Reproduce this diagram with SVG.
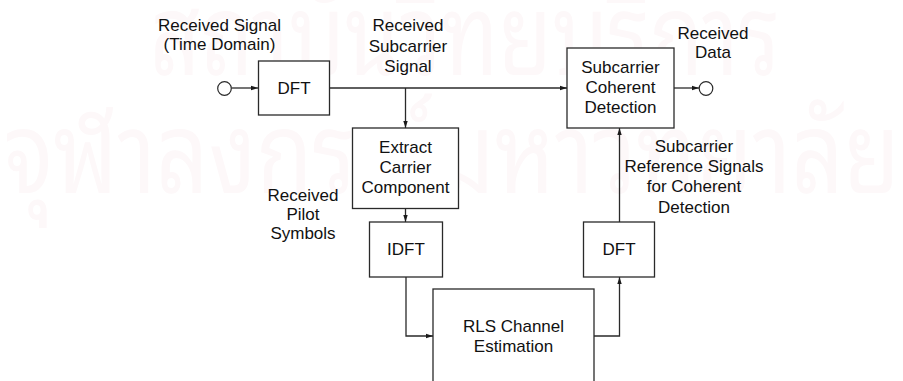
<svg xmlns="http://www.w3.org/2000/svg" width="903" height="381" viewBox="0 0 903 381">
  <defs>
    <marker id="arrow" markerUnits="userSpaceOnUse" markerWidth="8" markerHeight="6" refX="7" refY="3" orient="auto">
      <path d="M0,0.8 L7,3 L0,5.2 Z" fill="#1a1a1a"/>
    </marker>
    <style>
      .wm { font-family: "Noto Sans Thai Looped", "Loma", "Garuda", "Norasi", "Noto Sans Thai", "Noto Sans", sans-serif; fill: #fdf8f9; }
      .box { fill: #ffffff; stroke: #2a2a2a; stroke-width: 1.3; }
      .term { fill: #ffffff; stroke: #2a2a2a; stroke-width: 1.2; }
      .wire { fill: none; stroke: #2a2a2a; stroke-width: 1.3; }
      .arr { marker-end: url(#arrow); }
      text.lbl { font-family: "Liberation Sans", Arial, sans-serif; font-size: 17px; fill: #111111; text-anchor: middle; }
    </style>
  </defs>

  <rect width="903" height="381" fill="#ffffff"/>

  <!-- background watermark -->
  <g id="watermark">
    <text class="wm" x="150" y="75" font-size="112" textLength="630" lengthAdjust="spacingAndGlyphs">สถาบันวิทยบริการ</text>
    <text class="wm" x="4" y="193" font-size="112" textLength="896" lengthAdjust="spacingAndGlyphs">จุฬาลงกรณ์มหาวิทยาลัย</text>
  </g>

  <!-- connectors -->
  <g id="connectors">
    <line class="wire arr" x1="231.5" y1="88" x2="258" y2="88"/>
    <line class="wire arr" x1="330" y1="88" x2="567" y2="88"/>
    <line class="wire arr" x1="405.5" y1="88" x2="405.5" y2="128"/>
    <line class="wire arr" x1="405.5" y1="209" x2="405.5" y2="222"/>
    <polyline class="wire arr" points="406,277 406,336 433,336"/>
    <polyline class="wire arr" points="594,336 619.5,336 619.5,277"/>
    <line class="wire arr" x1="619.5" y1="222" x2="619.5" y2="128"/>
    <line class="wire arr" x1="674" y1="88" x2="699" y2="88"/>
  </g>

  <!-- terminals -->
  <g id="input-terminal">
    <circle class="term" cx="224.5" cy="88.5" r="6.8"/>
  </g>
  <g id="output-terminal">
    <circle class="term" cx="706" cy="88.5" r="6.8"/>
  </g>

  <!-- free labels -->
  <g id="label-received-signal">
    <text class="lbl" x="219.5" y="30.5">Received Signal</text>
    <text class="lbl" x="219.5" y="50">(Time Domain)</text>
  </g>
  <g id="label-received-subcarrier">
    <text class="lbl" x="408" y="31">Received</text>
    <text class="lbl" x="408" y="51.5">Subcarrier</text>
    <text class="lbl" x="408" y="72">Signal</text>
  </g>
  <g id="label-received-data">
    <text class="lbl" x="713" y="38.5">Received</text>
    <text class="lbl" x="713" y="58">Data</text>
  </g>
  <g id="label-pilot">
    <text class="lbl" x="303" y="201">Received</text>
    <text class="lbl" x="303" y="220">Pilot</text>
    <text class="lbl" x="303" y="239">Symbols</text>
  </g>
  <g id="label-reference">
    <text class="lbl" x="694" y="152">Subcarrier</text>
    <text class="lbl" x="694" y="172">Reference Signals</text>
    <text class="lbl" x="694" y="192">for Coherent</text>
    <text class="lbl" x="694" y="212.5">Detection</text>
  </g>

  <!-- blocks -->
  <g id="dft-in">
    <rect class="box" x="258.5" y="61" width="71" height="54"/>
    <text class="lbl" x="294" y="93.5">DFT</text>
  </g>
  <g id="coherent-detection">
    <rect class="box" x="567" y="48" width="107" height="80"/>
    <text class="lbl" x="620.5" y="73">Subcarrier</text>
    <text class="lbl" x="620.5" y="93">Coherent</text>
    <text class="lbl" x="620.5" y="113">Detection</text>
  </g>
  <g id="extract-carrier">
    <rect class="box" x="352.5" y="128" width="106" height="80.5"/>
    <text class="lbl" x="405.5" y="153">Extract</text>
    <text class="lbl" x="405.5" y="173">Carrier</text>
    <text class="lbl" x="405.5" y="193">Component</text>
  </g>
  <g id="idft">
    <rect class="box" x="369.5" y="222" width="73" height="55"/>
    <text class="lbl" x="406" y="255">IDFT</text>
  </g>
  <g id="dft-out">
    <rect class="box" x="583.5" y="222" width="71" height="55"/>
    <text class="lbl" x="619" y="255">DFT</text>
  </g>
  <g id="rls-estimation">
    <rect class="box" x="433" y="289" width="161" height="100"/>
    <text class="lbl" x="513.5" y="332">RLS Channel</text>
    <text class="lbl" x="513.5" y="352">Estimation</text>
  </g>
</svg>
